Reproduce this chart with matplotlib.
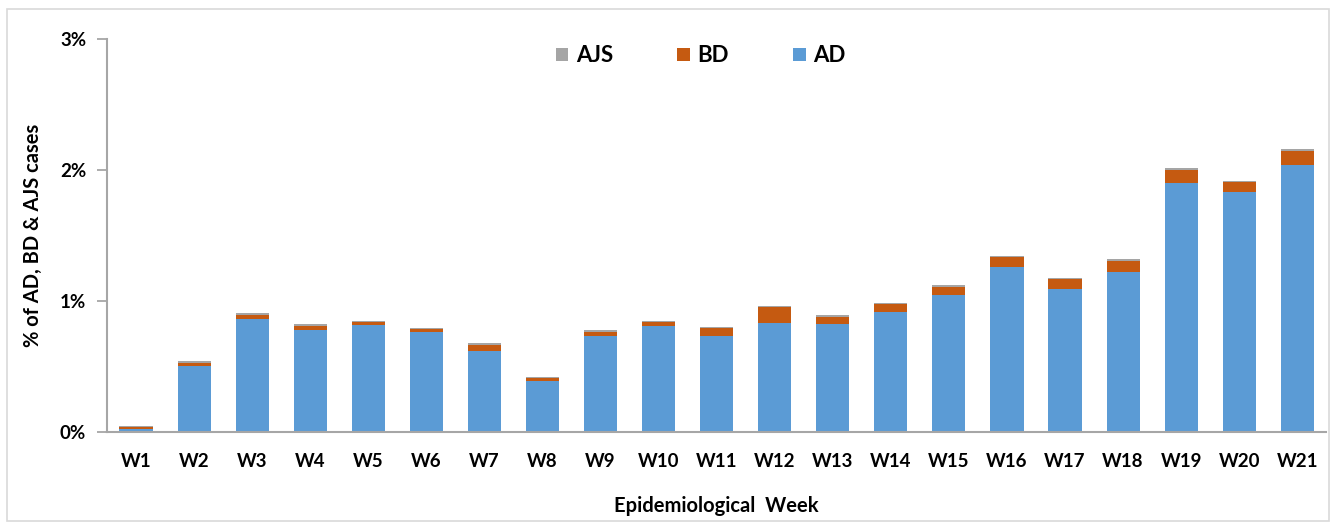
import matplotlib
matplotlib.use("Agg")
import matplotlib.pyplot as plt
import numpy as np
from matplotlib.ticker import FuncFormatter, MultipleLocator
from matplotlib.patches import Rectangle

weeks = ["W%d" % i for i in range(1, 22)]

# values in percent of cases
ad = [0.023, 0.506, 0.863, 0.779, 0.819, 0.761, 0.620, 0.392, 0.735, 0.807, 0.735,
      0.834, 0.822, 0.918, 1.048, 1.262, 1.092, 1.219, 1.903, 1.832, 2.036]
bd = [0.018, 0.023, 0.032, 0.032, 0.021, 0.023, 0.046, 0.020, 0.031, 0.030, 0.059,
      0.118, 0.058, 0.059, 0.059, 0.072, 0.074, 0.086, 0.099, 0.074, 0.109]
ajs = [0.008, 0.011, 0.011, 0.011, 0.010, 0.010, 0.013, 0.010, 0.010, 0.010, 0.010,
       0.012, 0.013, 0.010, 0.013, 0.012, 0.012, 0.013, 0.013, 0.012, 0.013]

plt.rcParams['font.family'] = ['Lato', 'DejaVu Sans']

fig = plt.figure(figsize=(13.37, 5.27), dpi=100)
ax = fig.add_axes([0.080, 0.180, 0.912, 0.746])

# light border around the whole chart
fig.patches.append(Rectangle((0.005, 0.012), 0.989, 0.970, transform=fig.transFigure,
                             fill=False, edgecolor='#d9d9d9', linewidth=1.2))

x = np.arange(len(weeks))
width = 0.57
ad_arr = np.array(ad)
bd_arr = np.array(bd)

ax.bar(x, ad, width, color='#5B9BD5', label='AD')
ax.bar(x, bd, width, bottom=ad_arr, color='#C55A11', label='BD')
ax.bar(x, ajs, width, bottom=ad_arr + bd_arr, color='#A5A5A5', label='AJS')

ax.set_xlim(-0.5, len(weeks) - 0.5)
ax.set_ylim(0, 3)
ax.yaxis.set_major_locator(MultipleLocator(1))
ax.yaxis.set_major_formatter(FuncFormatter(lambda v, p: "%d%%" % v))

ax.set_xticks(x)
ax.set_xticklabels(weeks)
ax.tick_params(axis='x', length=0, pad=15, labelsize=13.5)
ax.tick_params(axis='y', length=7, width=1.3, color='#a6a6a6', pad=8, labelsize=13.5)
for lbl in ax.get_xticklabels() + ax.get_yticklabels():
    lbl.set_fontweight('bold')

for s in ['top', 'right']:
    ax.spines[s].set_visible(False)
for s in ['left', 'bottom']:
    ax.spines[s].set_color('#a6a6a6')
    ax.spines[s].set_linewidth(1.5)

ax.set_ylabel('% of AD, BD & AJS cases', fontsize=14.5, fontweight='bold', labelpad=12)
ax.set_xlabel('Epidemiological  Week', fontsize=14.5, fontweight='bold', labelpad=19)

handles, labels = ax.get_legend_handles_labels()
leg = ax.legend(handles[::-1], labels[::-1], loc='upper center', bbox_to_anchor=(0.487, 1.035),
                ncol=3, frameon=False, prop={'weight': 'bold', 'size': 16},
                handlelength=0.55, handleheight=0.55, handletextpad=0.35, columnspacing=2.9)

fig.savefig("out.png", dpi=100)
